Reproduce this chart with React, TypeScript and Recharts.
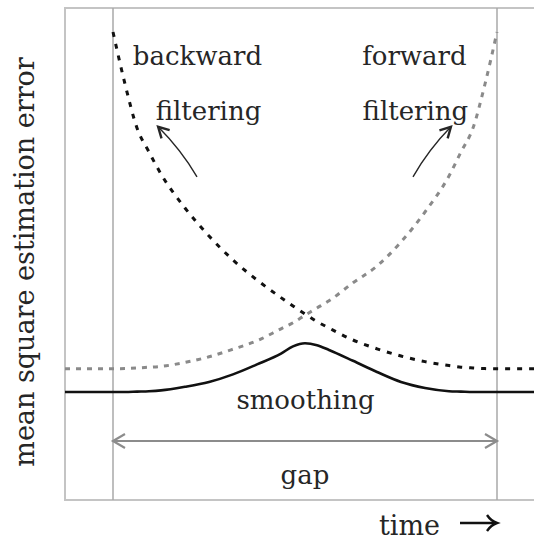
import React from "react";
import {
  ComposedChart,
  Line,
  XAxis,
  YAxis,
  ReferenceLine,
  ReferenceArea,
  ReferenceDot,
} from "recharts";

// time axis (gap runs from 0 to 8)
const times = [
  -1, 0, 0.25, 0.5, 0.75, 1, 1.5, 2, 2.5, 3, 3.5, 3.75, 4, 4.25, 4.5, 5, 5.5,
  6, 6.5, 7, 7.25, 7.5, 7.75, 8, 9,
];

const backwardFiltering = [
  null, 11.7, 10.4, 9.3, 8.7, 8.15, 7.3, 6.6, 6.0, 5.5, 5.06, 4.85, 4.65, 4.46,
  4.3, 4.0, 3.78, 3.6, 3.46, 3.36, 3.32, 3.3, 3.285, 3.28, 3.28,
];

const forwardFiltering = [
  3.28, 3.28, 3.285, 3.3, 3.32, 3.34, 3.44, 3.58, 3.77, 3.98, 4.28, 4.43, 4.62,
  4.8, 4.98, 5.43, 5.85, 6.45, 7.2, 8.1, 8.7, 9.3, 10.4, 11.7, null,
];

const smoothing = [
  2.7, 2.7, 2.7, 2.71, 2.72, 2.74, 2.83, 2.95, 3.14, 3.39, 3.66, 3.84, 3.92,
  3.87, 3.75, 3.48, 3.2, 2.95, 2.8, 2.72, 2.71, 2.7, 2.7, 2.7, 2.7,
];

const gapStart = 0;
const gapEnd = 8;

const data = times.map((t, i) => ({
  t,
  backward: backwardFiltering[i],
  forward: forwardFiltering[i],
  smoothing: smoothing[i],
}));

const FONT = "DejaVu Serif";
const INK = "#262626";

const caption = (text: string) => (p: any) => (
  <text
    x={p.cx}
    y={p.cy}
    textAnchor="middle"
    fontFamily={FONT}
    fontSize={26}
    fill={INK}
  >
    {text}
  </text>
);

// slightly bent arrow from (x1,y1) to the tip at (x2,y2)
const bentArrow = (bend: number) => (p: any) => {
  const { x1, y1, x2, y2 } = p;
  const dx = x2 - x1;
  const dy = y2 - y1;
  const len = Math.hypot(dx, dy) || 1;
  const cx = (x1 + x2) / 2 - (dy / len) * bend;
  const cy = (y1 + y2) / 2 + (dx / len) * bend;
  const a = Math.atan2(y2 - cy, x2 - cx);
  const h = 12;
  const s = 0.5;
  const ax = x2 - h * Math.cos(a - s);
  const ay = y2 - h * Math.sin(a - s);
  const bx = x2 - h * Math.cos(a + s);
  const by = y2 - h * Math.sin(a + s);
  return (
    <g>
      <path
        d={`M${x1},${y1} Q${cx},${cy} ${x2},${y2}`}
        fill="none"
        stroke={INK}
        strokeWidth={1.4}
      />
      <path
        d={`M${ax},${ay} L${x2},${y2} L${bx},${by}`}
        fill="none"
        stroke={INK}
        strokeWidth={2.4}
        strokeLinejoin="miter"
      />
    </g>
  );
};

const gapArrow = (p: any) => {
  const { x1, y1, x2, y2 } = p;
  const c = "#8c8c8c";
  return (
    <g fill="none" stroke={c} strokeWidth={2.2}>
      <line x1={x1} y1={y1} x2={x2} y2={y2} />
      <path d={`M${x1 + 12},${y1 - 7} L${x1},${y1} L${x1 + 12},${y1 + 7}`} />
      <path d={`M${x2 - 12},${y2 - 7} L${x2},${y2} L${x2 - 12},${y2 + 7}`} />
    </g>
  );
};

const timeLabel = (props: any) => {
  const vb = props.viewBox;
  const end = vb.x + vb.width * 0.9;
  const y = vb.y + 23;
  return (
    <g>
      <text
        x={end - 57}
        y={vb.y + 35}
        textAnchor="end"
        fontFamily={FONT}
        fontSize={27}
        fill={INK}
      >
        time
      </text>
      <g fill="none" stroke="#111" strokeWidth={2.4}>
        <line x1={end - 37} y1={y} x2={end - 1} y2={y} />
        <path
          d={`M${end - 10},${y - 8} Q${end - 6},${y - 2} ${end},${y} Q${end - 6},${y + 2} ${end - 10},${y + 8}`}
        />
      </g>
    </g>
  );
};

const errorLabel = (props: any) => {
  const vb = props.viewBox;
  const x = vb.x + 34;
  const y = vb.y + 254;
  return (
    <text
      x={x}
      y={y}
      transform={`rotate(-90 ${x} ${y})`}
      textAnchor="middle"
      fontFamily={FONT}
      fontSize={27}
      fill={INK}
    >
      mean square estimation error
    </text>
  );
};

export default function App() {
  return (
    <div
      style={{
        position: "fixed",
        left: 0,
        top: 0,
        width: 534,
        height: 541,
        overflow: "hidden",
        background: "#fff",
      }}
    >
      <ComposedChart
        width={560}
        height={541}
        data={data}
        margin={{ top: 8, right: 15, bottom: 0, left: 0 }}
      >
        <XAxis
          type="number"
          dataKey="t"
          domain={[-1, 9]}
          tick={false}
          tickLine={false}
          axisLine={false}
          height={41}
          label={timeLabel}
        />
        <YAxis
          type="number"
          domain={[0, 12.3]}
          tick={false}
          tickLine={false}
          axisLine={false}
          width={65}
          label={errorLabel}
        />
        <ReferenceArea
          x1={-1}
          x2={9}
          y1={0}
          y2={12.3}
          fill="none"
          stroke="#c4c4c4"
          strokeWidth={2}
        />
        <ReferenceLine x={gapStart} stroke="#a8a8a8" strokeWidth={1.5} />
        <ReferenceLine x={gapEnd} stroke="#a8a8a8" strokeWidth={1.5} />
        <ReferenceLine
          segment={[
            { x: gapStart, y: 1.475 },
            { x: gapEnd, y: 1.475 },
          ]}
          shape={gapArrow}
        />
        <ReferenceLine
          segment={[
            { x: 1.75, y: 8.08 },
            { x: 0.94, y: 9.33 },
          ]}
          shape={bentArrow(4)}
        />
        <ReferenceLine
          segment={[
            { x: 6.25, y: 8.08 },
            { x: 7.04, y: 9.33 },
          ]}
          shape={bentArrow(-4)}
        />
        <Line
          type="monotone"
          dataKey="forward"
          stroke="#8a8a8a"
          strokeWidth={3}
          strokeDasharray="5 6"
          dot={false}
          isAnimationActive={false}
        />
        <Line
          type="monotone"
          dataKey="backward"
          stroke="#111"
          strokeWidth={3}
          strokeDasharray="5 7"
          dot={false}
          isAnimationActive={false}
        />
        <Line
          type="monotone"
          dataKey="smoothing"
          stroke="#111"
          strokeWidth={2.6}
          dot={false}
          isAnimationActive={false}
        />
        <ReferenceDot x={1.76} y={10.875} r={0} shape={caption("backward")} />
        <ReferenceDot x={1.99} y={9.5} r={0} shape={caption("filtering")} />
        <ReferenceDot x={6.28} y={10.875} r={0} shape={caption("forward")} />
        <ReferenceDot x={6.3} y={9.5} r={0} shape={caption("filtering")} />
        <ReferenceDot x={4.01} y={2.275} r={0} shape={caption("smoothing")} />
        <ReferenceDot x={4} y={0.4} r={0} shape={caption("gap")} />
      </ComposedChart>
    </div>
  );
}
